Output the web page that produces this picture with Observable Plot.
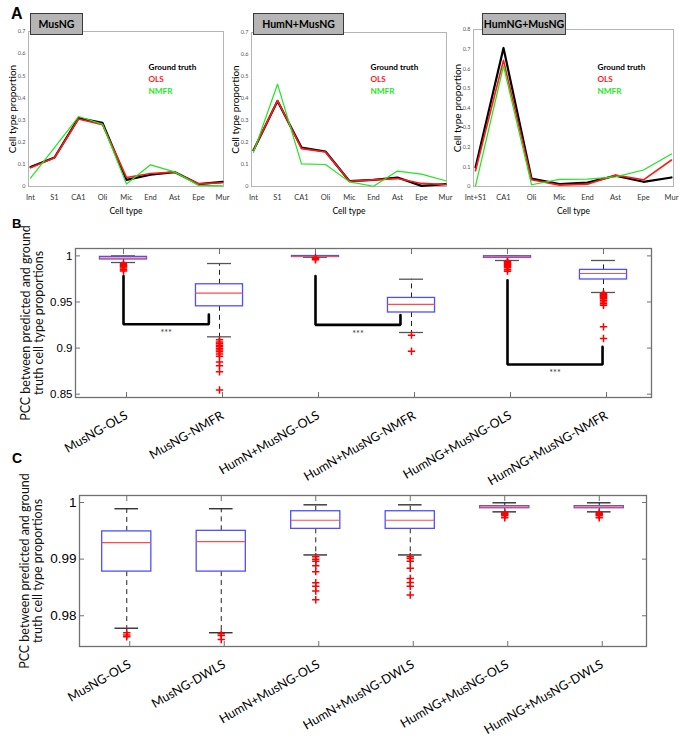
<!DOCTYPE html>
<html><head><meta charset="utf-8">
<script src="https://cdn.jsdelivr.net/npm/d3@7"></script>
<script src="https://cdn.jsdelivr.net/npm/@observablehq/plot@0.6"></script>
<style>
body{margin:0;background:#fff;}
#fig{position:relative;width:680px;height:743px;overflow:hidden;font-family:Lato,"Liberation Sans",sans-serif;}
.letter{position:absolute;font-family:"Liberation Sans",Arial,sans-serif;font-weight:bold;line-height:1;}
.tbox{position:absolute;background:#b5b5b5;border:1px solid #3a3a3a;box-sizing:border-box;font:bold 10.5px Lato,sans-serif;display:flex;align-items:center;justify-content:center;}
</style></head><body><div id="fig"></div>
<script>
// ---------- Panel A data ----------
const cellTypesA = ["Int","S1","CA1","Oli","Mic","End","Ast","Epe","Mur"];
const cellTypesA3 = ["Int+S1","CA1","Oli","Mic","End","Ast","Epe","Mur"];
const seriesNames = ["Ground truth","OLS","NMFR"];
const musNG_truth = [0.088,0.131,0.309,0.287,0.030,0.053,0.065,0.011,0.021];
const musNG_ols   = [0.085,0.130,0.305,0.279,0.041,0.059,0.065,0.012,0.017];
const musNG_nmfr  = [0.038,0.176,0.316,0.282,0.011,0.098,0.066,0.005,0.003];
const humN_truth  = [0.165,0.389,0.177,0.159,0.024,0.030,0.041,0.003,0.011];
const humN_ols    = [0.165,0.390,0.172,0.157,0.024,0.030,0.036,0.014,0.009];
const humN_nmfr   = [0.155,0.465,0.103,0.100,0.021,0.001,0.070,0.056,0.026];
const humNG_truth = [0.097,0.706,0.041,0.012,0.020,0.055,0.024,0.046];
const humNG_ols   = [0.080,0.643,0.034,0.007,0.012,0.058,0.034,0.135];
const humNG_nmfr  = [0.003,0.614,0.009,0.036,0.038,0.049,0.084,0.166];
const panelTitlesA = ["MusNG","HumN+MusNG","HumNG+MusNG"];

// ---------- Panel B data ----------
const methodsB = ["MusNG-OLS","MusNG-NMFR","HumN+MusNG-OLS","HumN+MusNG-NMFR","HumNG+MusNG-OLS","HumNG+MusNG-NMFR"];
const bHigh = [1.0000,0.9917,1.0000,0.9747,1.0000,0.9950];
const bQ3   = [0.9989,0.9692,0.9998,0.9544,0.9996,0.9848];
const bMed  = [0.9975,0.9595,0.9993,0.9473,0.9988,0.9809];
const bQ1   = [0.9961,0.9453,0.9988,0.9386,0.9978,0.9744];
const bLow  = [0.9928,0.9122,0.9985,0.9169,0.9950,0.9603];
const bOutliers = [
  [0.9918,0.9905,0.9895,0.9882,0.9868,0.9850,0.9835],
  [0.9090,0.9067,0.9050,0.9031,0.9015,0.8996,0.8980,0.8959,0.8935,0.8912,0.8850,0.8807,0.8742,0.8545],
  [0.9982,0.9970,0.9958],
  [0.9140,0.8966],
  [0.9943,0.9935,0.9925,0.9915,0.9905,0.9895,0.9885,0.9870,0.9850,0.9834],
  [0.9592,0.9585,0.9578,0.9570,0.9562,0.9555,0.9545,0.9535,0.9520,0.9500,0.9480,0.9465,0.9230,0.9104]
];
const bracketsB = [
  {from:0, to:0.889, top:0.978, base:0.9259, end:0.9364},
  {from:2, to:2.885, top:0.978, base:0.9252, end:0.9357},
  {from:4, to:4.99, top:0.9736, base:0.8822, end:0.9013}
];
const yTicksB = [0.85,0.9,0.95,1];

// ---------- Panel C data ----------
const methodsC = ["MusNG-OLS","MusNG-DWLS","HumN+MusNG-OLS","HumN+MusNG-DWLS","HumNG+MusNG-OLS","HumNG+MusNG-DWLS"];
const cHigh = [0.9989,0.9989,0.99959,0.99959,0.99995,0.99995];
const cQ3   = [0.9949,0.9950,0.99846,0.99846,0.99935,0.99935];
const cMed  = [0.9929,0.9931,0.99687,0.99687,0.99918,0.99918];
const cQ1   = [0.9878,0.9878,0.99535,0.99535,0.99899,0.99899];
const cLow  = [0.9778,0.9770,0.99074,0.99074,0.99835,0.99835];
const cOutliers = [
  [0.9770,0.9766,0.9763],
  [0.9768,0.9765,0.9758],
  [0.99044,0.9900,0.98961,0.98885,0.98779,0.98584,0.98519,0.98437,0.98283],
  [0.99044,0.9901,0.98961,0.98837,0.98660,0.98589,0.98519,0.98366],
  [0.99818,0.99800,0.99782,0.99765,0.99729],
  [0.99818,0.99800,0.99782,0.99765,0.99729]
];
const yTicksC = [0.98,0.99,1];
const yLabelBC = "PCC between predicted and ground\ntruth cell type proportions";

// ---------- helpers ----------
const fig = document.getElementById("fig");
function place(node, left, top, w) {
  const d = document.createElement("div");
  d.style.cssText = `position:absolute;left:${left}px;top:${top}px;width:${w}px;`;
  d.appendChild(node); fig.appendChild(d);
}
function html(cls, text, css) {
  const d = document.createElement("div");
  d.className = cls; d.textContent = text; d.style.cssText += css; fig.appendChild(d);
}
const seriesColors = ["#000000","#ff1a1a","#1ee61e"];
const seriesWidths = [2.2,1.6,1.2];
const baseStyle = {background:"transparent", overflow:"visible", fontFamily:"Lato, 'Liberation Sans', sans-serif", color:"#000"};

function lineChart({cats, values, yMax, w, ml, mr, mt, legendDx}) {
  const rows = values.flatMap((vals, s) => vals.map((v, i) => ({cat: cats[i], v, s})));
  return Plot.plot({
    width: w, height: 222, marginLeft: ml, marginRight: mr, marginTop: mt, marginBottom: 36,
    style: baseStyle,
    x: {type: "point", domain: cats, padding: 0},
    y: {domain: [0, yMax]},
    marks: [
      Plot.frame({stroke: "#b5b5b5"}),
      Plot.axisX({tickSize: 0, tickPadding: 8, fontSize: 7.5, label: null, fill: "#333"}),
      Plot.axisY({ticks: Math.round(yMax * 10), tickFormat: d3.format("~g"), tickSize: 0, tickPadding: 3, fontSize: 5.5, label: null, fill: "#555"}),
      ...seriesNames.map((n, s) => Plot.line(rows.filter(r => r.s === s), {x: "cat", y: "v", stroke: seriesColors[s], strokeWidth: seriesWidths[s]})),
      ...seriesNames.map((n, s) => Plot.text([n], {frameAnchor: "top-left", dx: legendDx, dy: 64 - mt + s * 12, textAnchor: "start", fill: seriesColors[s], fontWeight: "bold", fontSize: 8.2})),
      Plot.text(["Cell type proportion"], {frameAnchor: "left", textAnchor: "middle", rotate: -90, dx: -16, fontSize: 10}),
      Plot.text(["Cell type"], {frameAnchor: "bottom", dy: 27, fontSize: 8.5})
    ]
  });
}

function boxChart({cats, hi, q3, med, q1, lo, outliers, yDomain, yTicks, w, h, ml, mr, mt, mb, half, tickFont, labelDx, brackets, capColor}) {
  const stats = cats.map((c, i) => ({i, hi: hi[i], q3: q3[i], med: med[i], q1: q1[i], lo: lo[i]}));
  const outl = outliers.flatMap((vs, i) => vs.map(v => ({i, v})));
  const idx = cats.map((c, i) => i);
  const frameCol = "#707070";
  const marks = [
    Plot.ruleX(stats, {x: "i", y1: "q3", y2: "hi", stroke: "#222", strokeDasharray: "5,4"}),
    Plot.ruleX(stats, {x: "i", y1: "q1", y2: "lo", stroke: "#222", strokeDasharray: "5,4"}),
    Plot.ruleY(stats, {y: "hi", x1: d => d.i - 0.125, x2: d => d.i + 0.125, stroke: capColor, strokeWidth: 1.3}),
    Plot.ruleY(stats, {y: "lo", x1: d => d.i - 0.125, x2: d => d.i + 0.125, stroke: capColor, strokeWidth: 1.3}),
    Plot.rect(stats, {x1: d => d.i - half, x2: d => d.i + half, y1: "q1", y2: "q3", fill: "white", stroke: "#4f4fff", strokeWidth: 1.3}),
    Plot.ruleY(stats, {y: "med", x1: d => d.i - half, x2: d => d.i + half, stroke: "#ff4b4b", strokeWidth: 1.2}),
    Plot.dot(outl, {x: "i", y: "v", symbol: "plus", r: 2.5, stroke: "#ff0000", strokeWidth: 1.5})
  ];
  if (brackets) {
    const pts = brackets.flatMap((b, k) => [
      {k, x: b.from, y: b.top}, {k, x: b.from, y: b.base}, {k, x: b.to, y: b.base}, {k, x: b.to, y: b.end}]);
    marks.push(Plot.line(pts, {x: "x", y: "y", z: "k", stroke: "#000", strokeWidth: 2.6, strokeLinejoin: "miter"}));
    marks.push(Plot.text(brackets, {x: d => (d.from + d.to) / 2, y: "base", dy: 9, text: () => "***", fontSize: 9, fill: "#333"}));
  }
  marks.push(
    Plot.frame({stroke: frameCol, strokeWidth: 1.3}),
    Plot.axisY({ticks: yTicks, tickFormat: d => String(d), tickSize: -5, tickPadding: 8, fontSize: tickFont, label: null, stroke: frameCol, fontFamily: "'Liberation Sans', Arial, sans-serif"}),
    Plot.axisY({anchor: "right", ticks: yTicks, tickFormat: () => "", tickSize: -5, tickPadding: 0, label: null, stroke: frameCol}),
    Plot.axisX({ticks: idx, tickFormat: i => cats[i], tickRotate: -30, tickSize: -5, tickPadding: 22, dx: 3, fontSize: 12.5, label: null, stroke: frameCol}),
    Plot.axisX({anchor: "top", ticks: idx, tickFormat: () => "", tickSize: -5, tickPadding: 0, label: null, stroke: frameCol}),
    Plot.text([yLabelBC], {frameAnchor: "left", textAnchor: "middle", rotate: -90, dx: labelDx, fontSize: 12.5, lineHeight: 1.0, fill: "#111"})
  );
  return Plot.plot({
    width: w, height: h, marginLeft: ml, marginRight: mr, marginTop: mt, marginBottom: mb,
    style: baseStyle,
    x: {domain: [-0.5, cats.length - 0.5]},
    y: {domain: yDomain},
    marks
  });
}

// ---------- Panel A ----------
place(lineChart({cats: cellTypesA, values: [musNG_truth, musNG_ols, musNG_nmfr], yMax: 0.7, w: 230, ml: 28, mr: 7, mt: 31, legendDx: 120}), 0, 0, 230);
place(lineChart({cats: cellTypesA, values: [humN_truth, humN_ols, humN_nmfr], yMax: 0.7, w: 230, ml: 26, mr: 9, mt: 32, legendDx: 119}), 225, 0, 230);
place(lineChart({cats: cellTypesA3, values: [humNG_truth, humNG_ols, humNG_nmfr], yMax: 0.8, w: 230, ml: 23, mr: 7, mt: 29, legendDx: 124}), 450, 0, 230);
html("tbox", panelTitlesA[0], "left:30px;top:13px;width:53px;height:22px;");
html("tbox", panelTitlesA[1], "left:253px;top:13px;width:91px;height:22px;");
html("tbox", panelTitlesA[2], "left:482px;top:13px;width:84px;height:22px;");

// ---------- Panel B ----------
place(boxChart({cats: methodsB, hi: bHigh, q3: bQ3, med: bMed, q1: bQ1, lo: bLow, outliers: bOutliers,
  yDomain: [0.8464, 1.008], yTicks: yTicksB, w: 680, h: 255, ml: 75, mr: 29, mt: 20, mb: 86,
  half: 0.245, tickFont: 11.5, labelDx: -43, brackets: bracketsB, capColor: "#555"}), 0, 228, 680);

// ---------- Panel C ----------
place(boxChart({cats: methodsC, hi: cHigh, q3: cQ3, med: cMed, q1: cQ1, lo: cLow, outliers: cOutliers,
  yDomain: [0.97457, 1.00124], yTicks: yTicksC, w: 680, h: 258, ml: 79, mr: 34, mt: 10, mb: 97,
  half: 0.26, tickFont: 13.5, labelDx: -48, brackets: null, capColor: "#222"}), 0, 485, 680);

// ---------- panel letters ----------
html("letter", "A", "left:11px;top:6px;font-size:16px;");
html("letter", "B", "left:12px;top:217px;font-size:13px;");
html("letter", "C", "left:12px;top:451px;font-size:14px;");
</script></body></html>
